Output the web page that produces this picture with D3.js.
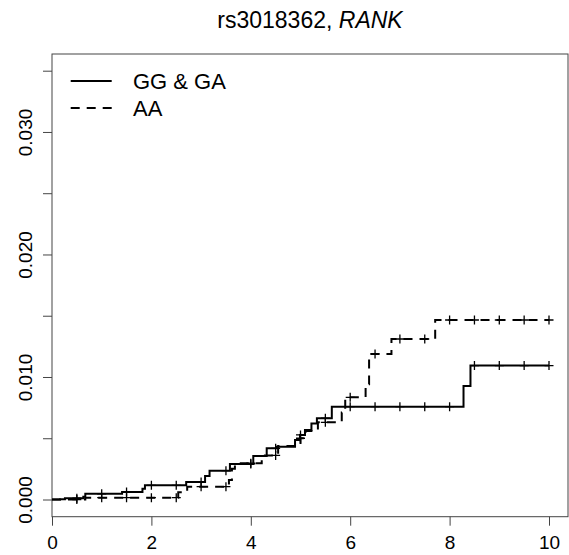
<!DOCTYPE html>
<html>
<head>
<meta charset="utf-8">
<script src="https://cdn.jsdelivr.net/npm/d3@7"></script>
<style>
  body { margin: 0; background: #fff; }
  text { font-family: "Liberation Sans", Arial, sans-serif; fill: #000; }
</style>
</head>
<body>
<div class="container"></div>
<script>
// step points: time (years) and cumulative incidence after the step
const ggTimes = [0, 0.16, 0.26, 0.63, 0.67, 1.41, 1.82, 1.87, 2.70, 3.08, 3.17, 3.58, 4.05, 4.32, 4.52, 4.89, 4.99, 5.09, 5.22, 5.33, 5.63, 8.28, 8.42];
const ggValues = [0, 0.00003, 0.0001, 0.00023, 0.00047, 0.00061, 0.00088, 0.00116, 0.00143, 0.00192, 0.00235, 0.0029, 0.00355, 0.00418, 0.0043, 0.00486, 0.00527, 0.00567, 0.0062, 0.00663, 0.00758, 0.00927, 0.01093];

const aaTimes = [0, 0.67, 2.54, 2.72, 3.56, 3.62, 3.68, 4.22, 4.55, 5.0, 5.1, 5.35, 5.83, 5.9, 6.31, 6.38, 6.83, 7.71];
const aaValues = [0, 0.00015, 0.00059, 0.00105, 0.0016, 0.0025, 0.00296, 0.0036, 0.00437, 0.005, 0.0056, 0.0063, 0.0071, 0.00834, 0.0094, 0.01188, 0.0131, 0.01465];

// censoring marks (every half year)
const censorTimes = [0.5, 1, 1.5, 2, 2.5, 3, 3.5, 4, 4.5, 5, 5.5, 6, 6.5, 7, 7.5, 8, 8.5, 9, 9.5, 10];
const endTime = 10;

const xTicks = [0, 2, 4, 6, 8, 10];
const yTicks = [0, 0.005, 0.01, 0.015, 0.02, 0.025, 0.03, 0.035];
const yLabelTicks = [0, 0.01, 0.02, 0.03];

const groups = ["GG & GA", "AA"];

const w = 569;
const h = 555;
const box = { left: 52, right: 568, top: 54, bottom: 516.7 };

const xScale = d3.scaleLinear()
                 .domain([0, 10])
                 .range([52, 549]);
const yScale = d3.scaleLinear()
                 .domain([0, 0.035])
                 .range([499.5, 70.7]);

const svg = d3.select(".container")
  .append("svg")
  .attr("width", w)
  .attr("height", h);

// title
const title = svg.append("text")
  .attr("x", (box.left + box.right) / 2)
  .attr("y", 28)
  .attr("text-anchor", "middle")
  .style("font-size", "23px");
title.append("tspan").text("rs3018362, ");
title.append("tspan").style("font-style", "italic").text("RANK");

// plot box
svg.append("rect")
  .attr("x", box.left)
  .attr("y", box.top)
  .attr("width", box.right - box.left)
  .attr("height", box.bottom - box.top)
  .attr("fill", "none")
  .attr("stroke", "#444")
  .attr("stroke-width", 1);

const xAxis = d3.axisBottom(xScale)
  .tickValues(xTicks)
  .tickSize(9)
  .tickPadding(10)
  .tickFormat(d3.format("d"));

const gx = svg.append("g")
  .attr("transform", "translate(0," + box.bottom + ")")
  .call(xAxis);
gx.select(".domain").remove();
gx.selectAll("line").attr("stroke", "#444");
gx.selectAll("text").style("font-size", "19px").attr("fill", "#000");

const yAxis = d3.axisLeft(yScale)
  .tickValues(yTicks)
  .tickSize(9)
  .tickFormat((d) => yLabelTicks.some((v) => Math.abs(v - d) < 1e-9) ? d3.format(".3f")(d) : "");

const gy = svg.append("g")
  .attr("transform", "translate(" + box.left + ",0)")
  .call(yAxis);
gy.select(".domain").remove();
gy.selectAll("line").attr("stroke", "#444");
gy.selectAll("text")
  .attr("x", null)
  .attr("dy", null)
  .attr("text-anchor", "middle")
  .attr("transform", "translate(-20,0) rotate(-90)")
  .attr("fill", "#000")
  .style("font-size", "19px");

// value of a step curve at time t
function stepValue(times, values, t) {
  let v = 0;
  for (let i = 0; i < times.length; i++) {
    if (times[i] <= t) v = values[i];
  }
  return v;
}

const line = d3.line()
  .x((d) => xScale(d[0]))
  .y((d) => yScale(d[1]))
  .curve(d3.curveStepAfter);

function drawCurve(times, values, dash) {
  const pts = times.map((t, i) => [t, values[i]]);
  pts.push([endTime, values[values.length - 1]]);
  svg.append("path")
    .datum(pts)
    .attr("d", line)
    .attr("fill", "none")
    .attr("stroke", "#000")
    .attr("stroke-width", 2)
    .attr("stroke-dasharray", dash);

  svg.append("g")
    .selectAll("path")
    .data(censorTimes)
    .enter()
    .append("path")
    .attr("d", (d) => {
      const cx = xScale(d);
      const cy = yScale(stepValue(times, values, d));
      return "M" + (cx - 4.5) + "," + cy + "H" + (cx + 4.5) + "M" + cx + "," + (cy - 4.5) + "V" + (cy + 4.5);
    })
    .attr("stroke", "#000")
    .attr("stroke-width", 1.3);
}

drawCurve(ggTimes, ggValues, null);
drawCurve(aaTimes, aaValues, "9,7");

// legend
const legend = svg.append("g");
groups.forEach((g, i) => {
  const ly = 81 + i * 27;
  legend.append("line")
    .attr("x1", 70.7)
    .attr("x2", 111.7)
    .attr("y1", ly)
    .attr("y2", ly)
    .attr("stroke", "#000")
    .attr("stroke-width", 2)
    .attr("stroke-dasharray", i === 0 ? null : "9,7");
  legend.append("text")
    .attr("x", 133)
    .attr("y", ly + 8)
    .style("font-size", "22px")
    .text(g);
});
</script>
</body>
</html>
